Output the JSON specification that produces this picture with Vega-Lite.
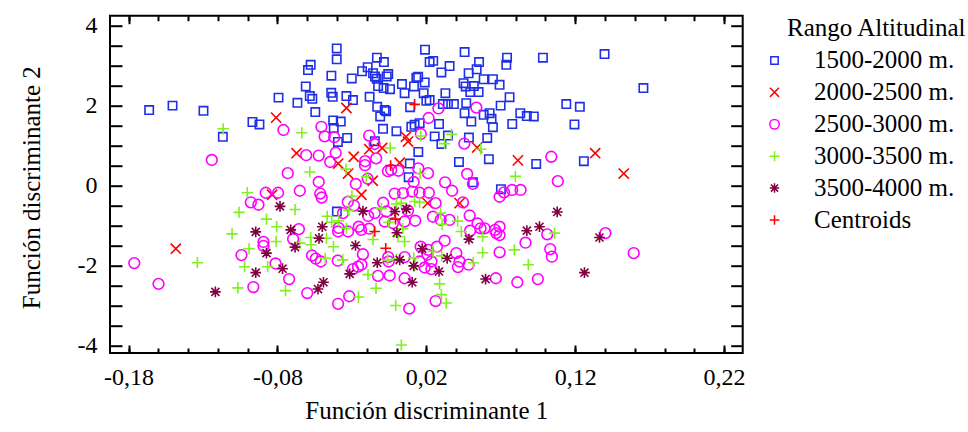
{
"$schema": "https://vega.github.io/schema/vega-lite/v6.json",
"autosize": {"type": "none"},
"width": 632.7,
"height": 337.3,
"padding": {"left": 110, "top": 15.7, "right": 225.3, "bottom": 79},
"background": "white",
"config": {
  "view": {"stroke": "black", "strokeWidth": 2},
  "font": "Liberation Serif",
  "axis": {"domain": false, "grid": false, "labelFont": "Liberation Serif", "titleFont": "Liberation Serif", "labelColor": "black", "titleColor": "black", "tickColor": "black", "tickWidth": 2}
},
"data": {"values": [
{"f1":-0.1662,"f2":1.89,"rango":"1500-2000 m."},{"f1":-0.1505,"f2":2.00,"rango":"1500-2000 m."},{"f1":-0.1297,"f2":1.87,"rango":"1500-2000 m."},{"f1":-0.1167,"f2":1.22,"rango":"1500-2000 m."},{"f1":-0.0968,"f2":1.59,"rango":"1500-2000 m."},{"f1":-0.0921,"f2":1.53,"rango":"1500-2000 m."},{"f1":-0.0793,"f2":2.20,"rango":"1500-2000 m."},{"f1":-0.0666,"f2":2.07,"rango":"1500-2000 m."},{"f1":-0.0610,"f2":2.48,"rango":"1500-2000 m."},{"f1":-0.0595,"f2":2.89,"rango":"1500-2000 m."},
{"f1":-0.0577,"f2":3.02,"rango":"1500-2000 m."},{"f1":-0.0583,"f2":2.24,"rango":"1500-2000 m."},{"f1":-0.0566,"f2":2.17,"rango":"1500-2000 m."},{"f1":-0.0546,"f2":1.84,"rango":"1500-2000 m."},{"f1":-0.0438,"f2":2.75,"rango":"1500-2000 m."},{"f1":-0.0439,"f2":2.32,"rango":"1500-2000 m."},{"f1":-0.0429,"f2":2.22,"rango":"1500-2000 m."},{"f1":-0.0402,"f2":3.43,"rango":"1500-2000 m."},{"f1":-0.0402,"f2":3.16,"rango":"1500-2000 m."},{"f1":-0.0426,"f2":1.63,"rango":"1500-2000 m."},
{"f1":-0.0422,"f2":1.44,"rango":"1500-2000 m."},{"f1":-0.0375,"f2":1.60,"rango":"1500-2000 m."},{"f1":-0.0394,"f2":1.09,"rango":"1500-2000 m."},{"f1":-0.0332,"f2":1.19,"rango":"1500-2000 m."},{"f1":-0.0337,"f2":2.24,"rango":"1500-2000 m."},{"f1":-0.0301,"f2":2.68,"rango":"1500-2000 m."},{"f1":-0.0293,"f2":2.14,"rango":"1500-2000 m."},{"f1":-0.0232,"f2":2.86,"rango":"1500-2000 m."},{"f1":-0.0194,"f2":2.96,"rango":"1500-2000 m."},{"f1":-0.0181,"f2":2.22,"rango":"1500-2000 m."},
{"f1":-0.0158,"f2":2.81,"rango":"1500-2000 m."},{"f1":-0.0145,"f2":2.73,"rango":"1500-2000 m."},{"f1":-0.0134,"f2":2.67,"rango":"1500-2000 m."},{"f1":-0.0132,"f2":3.20,"rango":"1500-2000 m."},{"f1":-0.0085,"f2":3.09,"rango":"1500-2000 m."},{"f1":-0.0066,"f2":2.73,"rango":"1500-2000 m."},{"f1":-0.0056,"f2":2.79,"rango":"1500-2000 m."},{"f1":-0.0124,"f2":2.49,"rango":"1500-2000 m."},{"f1":-0.0087,"f2":2.44,"rango":"1500-2000 m."},{"f1":-0.0044,"f2":2.41,"rango":"1500-2000 m."},
{"f1":-0.0130,"f2":1.97,"rango":"1500-2000 m."},{"f1":-0.0080,"f2":1.89,"rango":"1500-2000 m."},{"f1":-0.0070,"f2":1.86,"rango":"1500-2000 m."},{"f1":-0.0110,"f2":1.73,"rango":"1500-2000 m."},{"f1":-0.0091,"f2":1.42,"rango":"1500-2000 m."},{"f1":-0.0146,"f2":1.11,"rango":"1500-2000 m."},{"f1":-0.0001,"f2":1.36,"rango":"1500-2000 m."},{"f1":0.0036,"f2":2.54,"rango":"1500-2000 m."},{"f1":0.0054,"f2":2.31,"rango":"1500-2000 m."},{"f1":0.0117,"f2":2.48,"rango":"1500-2000 m."},
{"f1":0.0133,"f2":2.70,"rango":"1500-2000 m."},{"f1":0.0145,"f2":2.72,"rango":"1500-2000 m."},{"f1":0.0189,"f2":2.58,"rango":"1500-2000 m."},{"f1":0.0191,"f2":3.40,"rango":"1500-2000 m."},{"f1":0.0222,"f2":3.09,"rango":"1500-2000 m."},{"f1":0.0246,"f2":3.12,"rango":"1500-2000 m."},{"f1":0.0182,"f2":2.31,"rango":"1500-2000 m."},{"f1":0.0200,"f2":2.12,"rango":"1500-2000 m."},{"f1":0.0222,"f2":2.14,"rango":"1500-2000 m."},{"f1":0.0091,"f2":1.96,"rango":"1500-2000 m."},
{"f1":0.0099,"f2":1.47,"rango":"1500-2000 m."},{"f1":0.0121,"f2":1.52,"rango":"1500-2000 m."},{"f1":0.0155,"f2":1.56,"rango":"1500-2000 m."},{"f1":0.0146,"f2":0.84,"rango":"1500-2000 m."},{"f1":0.0089,"f2":0.55,"rango":"1500-2000 m."},{"f1":0.0081,"f2":0.21,"rango":"1500-2000 m."},{"f1":0.0256,"f2":1.23,"rango":"1500-2000 m."},{"f1":0.0301,"f2":2.83,"rango":"1500-2000 m."},{"f1":0.0356,"f2":2.99,"rango":"1500-2000 m."},{"f1":0.0457,"f2":3.34,"rango":"1500-2000 m."},
{"f1":0.0554,"f2":3.09,"rango":"1500-2000 m."},{"f1":0.0538,"f2":2.91,"rango":"1500-2000 m."},{"f1":0.0484,"f2":2.81,"rango":"1500-2000 m."},{"f1":0.0742,"f2":3.20,"rango":"1500-2000 m."},{"f1":0.0737,"f2":3.02,"rango":"1500-2000 m."},{"f1":0.0983,"f2":3.20,"rango":"1500-2000 m."},{"f1":0.0450,"f2":2.56,"rango":"1500-2000 m."},{"f1":0.0464,"f2":2.48,"rango":"1500-2000 m."},{"f1":0.0519,"f2":2.49,"rango":"1500-2000 m."},{"f1":0.0585,"f2":2.66,"rango":"1500-2000 m."},
{"f1":0.0647,"f2":2.66,"rango":"1500-2000 m."},{"f1":0.0692,"f2":2.52,"rango":"1500-2000 m."},{"f1":0.0495,"f2":2.34,"rango":"1500-2000 m."},{"f1":0.0551,"f2":2.34,"rango":"1500-2000 m."},{"f1":0.0328,"f2":2.31,"rango":"1500-2000 m."},{"f1":0.0759,"f2":2.21,"rango":"1500-2000 m."},{"f1":0.0699,"f2":2.00,"rango":"1500-2000 m."},{"f1":0.0468,"f2":2.06,"rango":"1500-2000 m."},{"f1":0.0311,"f2":2.04,"rango":"1500-2000 m."},{"f1":0.0345,"f2":2.04,"rango":"1500-2000 m."},
{"f1":0.0385,"f2":2.04,"rango":"1500-2000 m."},{"f1":0.0457,"f2":1.81,"rango":"1500-2000 m."},{"f1":0.0502,"f2":1.60,"rango":"1500-2000 m."},{"f1":0.0585,"f2":1.77,"rango":"1500-2000 m."},{"f1":0.0625,"f2":1.81,"rango":"1500-2000 m."},{"f1":0.0638,"f2":1.67,"rango":"1500-2000 m."},{"f1":0.0647,"f2":1.46,"rango":"1500-2000 m."},{"f1":0.0831,"f2":1.81,"rango":"1500-2000 m."},{"f1":0.0875,"f2":1.74,"rango":"1500-2000 m."},{"f1":0.0922,"f2":1.73,"rango":"1500-2000 m."},
{"f1":0.0777,"f2":1.54,"rango":"1500-2000 m."},{"f1":0.1140,"f2":2.04,"rango":"1500-2000 m."},{"f1":0.1231,"f2":1.97,"rango":"1500-2000 m."},{"f1":0.1195,"f2":1.53,"rango":"1500-2000 m."},{"f1":0.0285,"f2":1.54,"rango":"1500-2000 m."},{"f1":0.0345,"f2":1.25,"rango":"1500-2000 m."},{"f1":0.0301,"f2":1.04,"rango":"1500-2000 m."},{"f1":0.0486,"f2":1.20,"rango":"1500-2000 m."},{"f1":0.0609,"f2":1.19,"rango":"1500-2000 m."},{"f1":0.0620,"f2":0.66,"rango":"1500-2000 m."},
{"f1":0.0419,"f2":0.59,"rango":"1500-2000 m."},{"f1":0.0938,"f2":0.54,"rango":"1500-2000 m."},{"f1":0.1258,"f2":0.61,"rango":"1500-2000 m."},{"f1":0.1397,"f2":3.29,"rango":"1500-2000 m."},{"f1":0.1658,"f2":2.44,"rango":"1500-2000 m."},{"f1":0.0513,"f2":0.08,"rango":"1500-2000 m."},{"f1":0.0701,"f2":-0.09,"rango":"1500-2000 m."},{"f1":-0.0401,"f2":-0.65,"rango":"1500-2000 m."},
{"f1":-0.0809,"f2":1.70,"rango":"2000-2500 m."},{"f1":-0.0337,"f2":1.94,"rango":"2000-2500 m."},{"f1":-0.0672,"f2":0.81,"rango":"2000-2500 m."},{"f1":-0.0392,"f2":0.55,"rango":"2000-2500 m."},{"f1":-0.0288,"f2":0.72,"rango":"2000-2500 m."},{"f1":-0.0326,"f2":0.30,"rango":"2000-2500 m."},{"f1":-0.0183,"f2":0.91,"rango":"2000-2500 m."},{"f1":-0.0097,"f2":0.94,"rango":"2000-2500 m."},{"f1":-0.0160,"f2":0.12,"rango":"2000-2500 m."},{"f1":0.0021,"f2":0.57,"rango":"2000-2500 m."},
{"f1":0.0063,"f2":1.22,"rango":"2000-2500 m."},{"f1":0.0077,"f2":1.10,"rango":"2000-2500 m."},{"f1":0.0541,"f2":0.95,"rango":"2000-2500 m."},{"f1":0.0815,"f2":0.63,"rango":"2000-2500 m."},{"f1":0.1334,"f2":0.81,"rango":"2000-2500 m."},{"f1":0.1526,"f2":0.30,"rango":"2000-2500 m."},{"f1":0.0209,"f2":-0.44,"rango":"2000-2500 m."},{"f1":0.0423,"f2":-0.44,"rango":"2000-2500 m."},{"f1":-0.1483,"f2":-1.58,"rango":"2000-2500 m."},{"f1":-0.0836,"f2":-0.23,"rango":"2000-2500 m."},
{"f1":-0.0236,"f2":-0.23,"rango":"2000-2500 m."},
{"f1":-0.1241,"f2":0.64,"rango":"2500-3000 m."},{"f1":-0.0760,"f2":1.39,"rango":"2500-3000 m."},{"f1":-0.0731,"f2":0.31,"rango":"2500-3000 m."},{"f1":-0.0607,"f2":0.76,"rango":"2500-3000 m."},{"f1":-0.0523,"f2":0.75,"rango":"2500-3000 m."},{"f1":-0.0505,"f2":1.47,"rango":"2500-3000 m."},{"f1":-0.0483,"f2":1.23,"rango":"2500-3000 m."},{"f1":-0.0419,"f2":1.21,"rango":"2500-3000 m."},{"f1":-0.0409,"f2":0.82,"rango":"2500-3000 m."},{"f1":-0.0446,"f2":0.59,"rango":"2500-3000 m."},
{"f1":-0.0523,"f2":0.09,"rango":"2500-3000 m."},{"f1":-0.0274,"f2":0.04,"rango":"2500-3000 m."},{"f1":-0.0211,"f2":0.61,"rango":"2500-3000 m."},{"f1":-0.0212,"f2":0.51,"rango":"2500-3000 m."},{"f1":-0.0184,"f2":1.25,"rango":"2500-3000 m."},{"f1":-0.0148,"f2":1.04,"rango":"2500-3000 m."},{"f1":-0.0137,"f2":0.68,"rango":"2500-3000 m."},{"f1":-0.0058,"f2":0.36,"rango":"2500-3000 m."},{"f1":-0.0036,"f2":0.39,"rango":"2500-3000 m."},{"f1":0.0012,"f2":0.37,"rango":"2500-3000 m."},
{"f1":-0.0194,"f2":0.17,"rango":"2500-3000 m."},{"f1":0.0146,"f2":0.43,"rango":"2500-3000 m."},{"f1":0.0115,"f2":0.09,"rango":"2500-3000 m."},{"f1":0.0215,"f2":1.69,"rango":"2500-3000 m."},{"f1":0.0281,"f2":1.93,"rango":"2500-3000 m."},{"f1":0.0536,"f2":1.95,"rango":"2500-3000 m."},{"f1":0.0163,"f2":1.29,"rango":"2500-3000 m."},{"f1":0.0455,"f2":1.05,"rango":"2500-3000 m."},{"f1":0.0474,"f2":0.29,"rango":"2500-3000 m."},{"f1":0.0211,"f2":0.31,"rango":"2500-3000 m."},
{"f1":0.0326,"f2":0.08,"rango":"2500-3000 m."},{"f1":0.1039,"f2":0.72,"rango":"2500-3000 m."},{"f1":0.1083,"f2":0.11,"rango":"2500-3000 m."},{"f1":0.0373,"f2":-0.13,"rango":"2500-3000 m."},{"f1":0.0217,"f2":-0.18,"rango":"2500-3000 m."},{"f1":0.0513,"f2":0.04,"rango":"2500-3000 m."},{"f1":0.0692,"f2":-0.28,"rango":"2500-3000 m."},{"f1":0.0722,"f2":-0.17,"rango":"2500-3000 m."},{"f1":0.0776,"f2":-0.11,"rango":"2500-3000 m."},{"f1":0.0833,"f2":-0.11,"rango":"2500-3000 m."},
{"f1":0.0262,"f2":-0.44,"rango":"2500-3000 m."},{"f1":0.0446,"f2":-0.42,"rango":"2500-3000 m."},{"f1":0.0491,"f2":-0.75,"rango":"2500-3000 m."},{"f1":0.0244,"f2":-0.78,"rango":"2500-3000 m."},{"f1":0.0296,"f2":-0.86,"rango":"2500-3000 m."},{"f1":0.0356,"f2":-0.86,"rango":"2500-3000 m."},{"f1":0.0544,"f2":-0.95,"rango":"2500-3000 m."},{"f1":0.0564,"f2":-1.07,"rango":"2500-3000 m."},{"f1":0.0591,"f2":-1.07,"rango":"2500-3000 m."},{"f1":0.0494,"f2":-1.13,"rango":"2500-3000 m."},
{"f1":0.0662,"f2":-1.11,"rango":"2500-3000 m."},{"f1":0.0692,"f2":-1.03,"rango":"2500-3000 m."},{"f1":0.0692,"f2":-1.24,"rango":"2500-3000 m."},{"f1":0.0670,"f2":-1.19,"rango":"2500-3000 m."},{"f1":0.0323,"f2":-1.38,"rango":"2500-3000 m."},{"f1":0.1012,"f2":-1.22,"rango":"2500-3000 m."},{"f1":0.1403,"f2":-1.19,"rango":"2500-3000 m."},{"f1":0.0866,"f2":-1.43,"rango":"2500-3000 m."},{"f1":-0.0513,"f2":-0.20,"rango":"2500-3000 m."},{"f1":-0.0503,"f2":-0.30,"rango":"2500-3000 m."},
{"f1":-0.0328,"f2":-0.41,"rango":"2500-3000 m."},{"f1":-0.0013,"f2":-0.20,"rango":"2500-3000 m."},{"f1":0.0043,"f2":-0.19,"rango":"2500-3000 m."},{"f1":0.0105,"f2":-0.15,"rango":"2500-3000 m."},{"f1":0.0155,"f2":-0.18,"rango":"2500-3000 m."},{"f1":-0.0286,"f2":-0.50,"rango":"2500-3000 m."},{"f1":-0.0147,"f2":-0.69,"rango":"2500-3000 m."},{"f1":-0.0191,"f2":-0.76,"rango":"2500-3000 m."},{"f1":-0.0090,"f2":-0.43,"rango":"2500-3000 m."},{"f1":-0.0360,"f2":-0.69,"rango":"2500-3000 m."},
{"f1":-0.0393,"f2":-1.15,"rango":"2500-3000 m."},{"f1":-0.0389,"f2":-1.06,"rango":"2500-3000 m."},{"f1":-0.0238,"f2":-1.11,"rango":"2500-3000 m."},{"f1":-0.0254,"f2":-1.03,"rango":"2500-3000 m."},{"f1":-0.0184,"f2":-1.08,"rango":"2500-3000 m."},{"f1":-0.0326,"f2":-1.15,"rango":"2500-3000 m."},{"f1":-0.0080,"f2":-0.90,"rango":"2500-3000 m."},{"f1":-0.0024,"f2":-0.94,"rango":"2500-3000 m."},{"f1":0.0054,"f2":-0.90,"rango":"2500-3000 m."},{"f1":-0.0068,"f2":-0.65,"rango":"2500-3000 m."},
{"f1":0.0077,"f2":-0.63,"rango":"2500-3000 m."},{"f1":0.0125,"f2":-0.88,"rango":"2500-3000 m."},{"f1":-0.0879,"f2":-0.18,"rango":"2500-3000 m."},{"f1":-0.0796,"f2":-0.18,"rango":"2500-3000 m."},{"f1":-0.0650,"f2":-0.13,"rango":"2500-3000 m."},{"f1":-0.0979,"f2":-0.42,"rango":"2500-3000 m."},{"f1":-0.0928,"f2":-0.48,"rango":"2500-3000 m."},{"f1":-0.0656,"f2":-1.09,"rango":"2500-3000 m."},{"f1":-0.0695,"f2":-1.34,"rango":"2500-3000 m."},{"f1":-0.0894,"f2":-1.41,"rango":"2500-3000 m."},
{"f1":-0.0894,"f2":-1.51,"rango":"2500-3000 m."},{"f1":-0.1762,"f2":-1.94,"rango":"2500-3000 m."},{"f1":-0.1599,"f2":-2.46,"rango":"2500-3000 m."},{"f1":-0.1042,"f2":-1.74,"rango":"2500-3000 m."},{"f1":-0.0962,"f2":-2.54,"rango":"2500-3000 m."},{"f1":-0.0813,"f2":-1.95,"rango":"2500-3000 m."},{"f1":-0.0722,"f2":-2.34,"rango":"2500-3000 m."},{"f1":-0.0600,"f2":-2.69,"rango":"2500-3000 m."},{"f1":-0.0568,"f2":-1.75,"rango":"2500-3000 m."},{"f1":-0.0543,"f2":-1.83,"rango":"2500-3000 m."},
{"f1":-0.0509,"f2":-1.90,"rango":"2500-3000 m."},{"f1":-0.0395,"f2":-1.88,"rango":"2500-3000 m."},{"f1":-0.0226,"f2":-1.72,"rango":"2500-3000 m."},{"f1":-0.0259,"f2":-2.03,"rango":"2500-3000 m."},{"f1":-0.0293,"f2":-2.09,"rango":"2500-3000 m."},{"f1":-0.0236,"f2":-1.98,"rango":"2500-3000 m."},{"f1":-0.0053,"f2":-1.90,"rango":"2500-3000 m."},{"f1":-0.0056,"f2":-1.79,"rango":"2500-3000 m."},{"f1":0.0054,"f2":-1.79,"rango":"2500-3000 m."},{"f1":0.0155,"f2":-1.90,"rango":"2500-3000 m."},
{"f1":0.0189,"f2":-2.05,"rango":"2500-3000 m."},{"f1":0.0207,"f2":-1.73,"rango":"2500-3000 m."},{"f1":0.0234,"f2":-1.90,"rango":"2500-3000 m."},{"f1":0.0234,"f2":-2.09,"rango":"2500-3000 m."},{"f1":-0.0125,"f2":-2.26,"rango":"2500-3000 m."},{"f1":-0.0046,"f2":-2.25,"rango":"2500-3000 m."},{"f1":0.0054,"f2":-2.32,"rango":"2500-3000 m."},{"f1":-0.0318,"f2":-2.77,"rango":"2500-3000 m."},{"f1":-0.0393,"f2":-2.96,"rango":"2500-3000 m."},{"f1":0.0085,"f2":-3.08,"rango":"2500-3000 m."},
{"f1":0.0162,"f2":-1.53,"rango":"2500-3000 m."},{"f1":0.0271,"f2":-1.53,"rango":"2500-3000 m."},{"f1":0.0401,"f2":-1.69,"rango":"2500-3000 m."},{"f1":0.0423,"f2":-1.90,"rango":"2500-3000 m."},{"f1":0.0412,"f2":-2.04,"rango":"2500-3000 m."},{"f1":0.0484,"f2":-1.98,"rango":"2500-3000 m."},{"f1":0.0692,"f2":-1.67,"rango":"2500-3000 m."},{"f1":0.1032,"f2":-1.59,"rango":"2500-3000 m."},{"f1":0.1043,"f2":-1.78,"rango":"2500-3000 m."},{"f1":0.1593,"f2":-1.69,"rango":"2500-3000 m."},
{"f1":0.0667,"f2":-2.32,"rango":"2500-3000 m."},{"f1":0.0811,"f2":-2.42,"rango":"2500-3000 m."},{"f1":0.0949,"f2":-2.34,"rango":"2500-3000 m."},{"f1":0.0262,"f2":-2.89,"rango":"2500-3000 m."},{"f1":0.0212,"f2":-1.61,"rango":"2500-3000 m."},
{"f1":-0.1165,"f2":1.42,"rango":"3000-3500 m."},{"f1":-0.0637,"f2":1.32,"rango":"3000-3500 m."},{"f1":-0.0583,"f2":0.34,"rango":"3000-3500 m."},{"f1":-0.0340,"f2":0.41,"rango":"3000-3500 m."},{"f1":-0.0203,"f2":0.22,"rango":"3000-3500 m."},{"f1":-0.0043,"f2":0.94,"rango":"3000-3500 m."},{"f1":0.0162,"f2":1.24,"rango":"3000-3500 m."},{"f1":0.0158,"f2":0.30,"rango":"3000-3500 m."},{"f1":0.0368,"f2":1.28,"rango":"3000-3500 m."},{"f1":0.0323,"f2":1.05,"rango":"3000-3500 m."},
{"f1":0.0566,"f2":0.91,"rango":"3000-3500 m."},{"f1":0.0798,"f2":0.23,"rango":"3000-3500 m."},{"f1":0.0295,"f2":-0.69,"rango":"3000-3500 m."},{"f1":0.0306,"f2":-0.97,"rango":"3000-3500 m."},{"f1":0.0410,"f2":-0.89,"rango":"3000-3500 m."},{"f1":0.0435,"f2":-1.15,"rango":"3000-3500 m."},{"f1":0.0578,"f2":-1.28,"rango":"3000-3500 m."},{"f1":0.0578,"f2":-1.68,"rango":"3000-3500 m."},{"f1":0.0791,"f2":-1.61,"rango":"3000-3500 m."},{"f1":0.1061,"f2":-1.19,"rango":"3000-3500 m."},
{"f1":0.0885,"f2":-1.98,"rango":"3000-3500 m."},{"f1":0.0515,"f2":-1.93,"rango":"3000-3500 m."},{"f1":0.0244,"f2":-1.65,"rango":"3000-3500 m."},{"f1":0.0303,"f2":-1.76,"rango":"3000-3500 m."},{"f1":0.0289,"f2":-2.46,"rango":"3000-3500 m."},{"f1":0.0301,"f2":-2.73,"rango":"3000-3500 m."},{"f1":0.0334,"f2":-2.94,"rango":"3000-3500 m."},{"f1":-0.1003,"f2":-0.18,"rango":"3000-3500 m."},{"f1":-0.1058,"f2":-0.67,"rango":"3000-3500 m."},{"f1":-0.1105,"f2":-1.21,"rango":"3000-3500 m."},
{"f1":-0.1338,"f2":-1.93,"rango":"3000-3500 m."},{"f1":-0.1066,"f2":-2.56,"rango":"3000-3500 m."},{"f1":-0.1021,"f2":-2.03,"rango":"3000-3500 m."},{"f1":-0.0991,"f2":-1.58,"rango":"3000-3500 m."},{"f1":-0.0874,"f2":-0.84,"rango":"3000-3500 m."},{"f1":-0.0805,"f2":-1.03,"rango":"3000-3500 m."},{"f1":-0.0809,"f2":-1.40,"rango":"3000-3500 m."},{"f1":-0.0866,"f2":-2.03,"rango":"3000-3500 m."},{"f1":-0.0682,"f2":-0.60,"rango":"3000-3500 m."},{"f1":-0.0650,"f2":-1.44,"rango":"3000-3500 m."},
{"f1":-0.0746,"f2":-2.63,"rango":"3000-3500 m."},{"f1":-0.0577,"f2":-1.30,"rango":"3000-3500 m."},{"f1":-0.0575,"f2":-1.48,"rango":"3000-3500 m."},{"f1":-0.0466,"f2":-0.77,"rango":"3000-3500 m."},{"f1":-0.0436,"f2":-0.92,"rango":"3000-3500 m."},{"f1":-0.0389,"f2":-0.88,"rango":"3000-3500 m."},{"f1":-0.0424,"f2":-1.53,"rango":"3000-3500 m."},{"f1":-0.0479,"f2":-1.82,"rango":"3000-3500 m."},{"f1":-0.0362,"f2":-1.86,"rango":"3000-3500 m."},{"f1":-0.0337,"f2":-1.07,"rango":"3000-3500 m."},
{"f1":-0.0300,"f2":-0.26,"rango":"3000-3500 m."},{"f1":-0.0321,"f2":-0.62,"rango":"3000-3500 m."},{"f1":-0.0192,"f2":-2.23,"rango":"3000-3500 m."},{"f1":-0.0138,"f2":-2.57,"rango":"3000-3500 m."},{"f1":-0.0256,"f2":-2.79,"rango":"3000-3500 m."},{"f1":-0.0158,"f2":-1.35,"rango":"3000-3500 m."},{"f1":-0.0053,"f2":-0.92,"rango":"3000-3500 m."},{"f1":-0.0001,"f2":-0.46,"rango":"3000-3500 m."},{"f1":0.0032,"f2":-0.44,"rango":"3000-3500 m."},{"f1":0.0009,"f2":-1.28,"rango":"3000-3500 m."},
{"f1":0.0041,"f2":-1.08,"rango":"3000-3500 m."},{"f1":-0.0001,"f2":-1.84,"rango":"3000-3500 m."},{"f1":-0.0060,"f2":-1.86,"rango":"3000-3500 m."},{"f1":0.0121,"f2":-2.01,"rango":"3000-3500 m."},{"f1":0.0115,"f2":-1.81,"rango":"3000-3500 m."},{"f1":-0.0006,"f2":-3.00,"rango":"3000-3500 m."},{"f1":0.0032,"f2":-3.99,"rango":"3000-3500 m."},{"f1":0.0155,"f2":-0.42,"rango":"3000-3500 m."},{"f1":0.0121,"f2":-0.40,"rango":"3000-3500 m."},{"f1":0.0054,"f2":-1.40,"rango":"3000-3500 m."},
{"f1":-0.0102,"f2":-0.57,"rango":"3000-3500 m."},{"f1":-0.0471,"f2":-1.32,"rango":"3000-3500 m."},
{"f1":-0.1217,"f2":-2.66,"rango":"3500-4000 m."},{"f1":-0.0946,"f2":-1.16,"rango":"3500-4000 m."},{"f1":-0.0946,"f2":-2.18,"rango":"3500-4000 m."},{"f1":-0.0874,"f2":-1.69,"rango":"3500-4000 m."},{"f1":-0.0766,"f2":-2.08,"rango":"3500-4000 m."},{"f1":-0.0783,"f2":-0.52,"rango":"3500-4000 m."},{"f1":-0.0711,"f2":-1.11,"rango":"3500-4000 m."},{"f1":-0.0682,"f2":-1.54,"rango":"3500-4000 m."},{"f1":-0.0499,"f2":-1.03,"rango":"3500-4000 m."},{"f1":-0.0521,"f2":-1.32,"rango":"3500-4000 m."},
{"f1":-0.0491,"f2":-2.42,"rango":"3500-4000 m."},{"f1":-0.0528,"f2":-2.59,"rango":"3500-4000 m."},{"f1":-0.0276,"f2":-1.50,"rango":"3500-4000 m."},{"f1":-0.0315,"f2":-2.21,"rango":"3500-4000 m."},{"f1":-0.0226,"f2":-0.64,"rango":"3500-4000 m."},{"f1":-0.0130,"f2":-1.93,"rango":"3500-4000 m."},{"f1":0.0002,"f2":-1.18,"rango":"3500-4000 m."},{"f1":-0.0011,"f2":-0.65,"rango":"3500-4000 m."},{"f1":0.0066,"f2":-0.59,"rango":"3500-4000 m."},{"f1":0.0021,"f2":-1.86,"rango":"3500-4000 m."},
{"f1":0.0115,"f2":-2.01,"rango":"3500-4000 m."},{"f1":0.0105,"f2":-2.42,"rango":"3500-4000 m."},{"f1":0.0172,"f2":-1.58,"rango":"3500-4000 m."},{"f1":0.1079,"f2":-0.66,"rango":"3500-4000 m."},{"f1":0.0875,"f2":-1.13,"rango":"3500-4000 m."},{"f1":0.0960,"f2":-1.03,"rango":"3500-4000 m."},{"f1":0.0486,"f2":-1.34,"rango":"3500-4000 m."},{"f1":0.0340,"f2":-1.82,"rango":"3500-4000 m."},{"f1":0.0285,"f2":-2.15,"rango":"3500-4000 m."},{"f1":0.0598,"f2":-2.34,"rango":"3500-4000 m."},
{"f1":0.1363,"f2":-1.30,"rango":"3500-4000 m."},{"f1":0.1262,"f2":-2.18,"rango":"3500-4000 m."},
{"f1":0.0121,"f2":2.03,"rango":"Centroids"},{"f1":-0.0040,"f2":0.50,"rango":"Centroids"},{"f1":-0.0007,"f2":-0.84,"rango":"Centroids"},{"f1":-0.0147,"f2":-1.15,"rango":"Centroids"},{"f1":-0.0073,"f2":-1.57,"rango":"Centroids"}
]},
"resolve": {"axis": {"x": "independent", "y": "independent"}},
"layer": [
  {
    "mark": {"type": "point", "filled": false, "size": 115, "strokeWidth": 1.6, "opacity": 1},
    "encoding": {
      "x": {"field": "f1", "type": "quantitative", "scale": {"domain": [-0.1925, 0.2325], "nice": false, "zero": false},
        "axis": {"orient": "bottom", "values": [-0.18, -0.08, 0.02, 0.12, 0.22], "ticks": false, "labelPadding": 12.5, "labelFontSize": 24, "labelFlush": false, "labelOverlap": false,
          "labelExpr": "replace(replace(format(datum.value, '.2f'), '.', ','), '\u2212', '-')",
          "title": "Función discriminante 1", "titleFontSize": 25, "titleFontWeight": "normal", "titleBaseline": "alphabetic", "titleX": 316.35, "titleY": 65}},
      "y": {"field": "f2", "type": "quantitative", "scale": {"domain": [-4.19, 4.25], "nice": false, "zero": false},
        "axis": {"orient": "left", "values": [-4, -2, 0, 2, 4], "ticks": false, "labelPadding": 13, "labelFontSize": 24, "labelFlush": false, "labelOverlap": false,
          "labelExpr": "replace(format(datum.value, 'd'), '\u2212', '-')",
          "title": "Función discriminante 2", "titleFontSize": 25, "titleFontWeight": "normal", "titleBaseline": "alphabetic", "titleX": -71, "titleY": 171.5}},
      "shape": {"field": "rango", "type": "nominal",
        "scale": {"domain": ["1500-2000 m.", "2000-2500 m.", "2500-3000 m.", "3000-3500 m.", "3500-4000 m.", "Centroids"],
          "range": ["M-0.78,-0.78H0.78V0.78H-0.78Z", "M-0.95,-0.95L0.95,0.95M-0.95,0.95L0.95,-0.95", "circle", "M-1.05,0H1.05M0,-1.05V1.05", "M-1,0H1M0,-1V1M-0.75,-0.75L0.75,0.75M-0.75,0.75L0.75,-0.75", "M-1,0H1M0,-1V1"]},
        "legend": {"orient": "none", "legendX": 652, "legendY": 0, "direction": "vertical", "title": "\u200b\u00a0\u00a0\u00a0\u00a0Rango Altitudinal", "titleFont": "Liberation Serif", "titleFontSize": 25, "titleFontWeight": "normal", "titleColor": "black", "titleLimit": 0, "titlePadding": 7.25,
          "labelFont": "Liberation Serif", "labelFontSize": 25, "labelColor": "black", "labelLimit": 0, "labelOffset": 27, "symbolSize": 90, "symbolStrokeWidth": 1.5, "rowPadding": 5.9}},
      "color": {"field": "rango", "type": "nominal",
        "scale": {"domain": ["1500-2000 m.", "2000-2500 m.", "2500-3000 m.", "3000-3500 m.", "3500-4000 m.", "Centroids"],
          "range": ["#1f2fe6", "#ff0000", "#ff00ff", "#80f020", "#800040", "#ff0000"]},
        "legend": {"orient": "none", "legendX": 652, "legendY": 0, "direction": "vertical", "title": "\u200b\u00a0\u00a0\u00a0\u00a0Rango Altitudinal", "titleFont": "Liberation Serif", "titleFontSize": 25, "titleFontWeight": "normal", "titleColor": "black", "titleLimit": 0, "titlePadding": 7.25,
          "labelFont": "Liberation Serif", "labelFontSize": 25, "labelColor": "black", "labelLimit": 0, "labelOffset": 27, "symbolSize": 90, "symbolStrokeWidth": 1.5, "rowPadding": 5.9}}
    }
  },
  {
    "mark": {"type": "point", "opacity": 0},
    "encoding": {
      "x": {"field": "f1", "type": "quantitative", "scale": {"domain": [-0.1925, 0.2325], "nice": false, "zero": false},
        "axis": {"orient": "bottom", "values": [-0.18, -0.08, 0.02, 0.12, 0.22], "labels": false, "tickSize": -8, "title": null}},
      "y": {"field": "f2", "type": "quantitative", "scale": {"domain": [-4.19, 4.25], "nice": false, "zero": false},
        "axis": {"orient": "left", "values": [-4, -3.5, -3, -2.5, -2, -1.5, -1, -0.5, 0, 0.5, 1, 1.5, 2, 2.5, 3, 3.5, 4], "labels": false, "tickSize": -12, "title": null}}
    }
  },
  {
    "mark": {"type": "point", "opacity": 0},
    "encoding": {
      "x": {"field": "f1", "type": "quantitative", "scale": {"domain": [-0.1925, 0.2325], "nice": false, "zero": false},
        "axis": {"orient": "bottom", "values": [-0.18, -0.16, -0.14, -0.12, -0.1, -0.08, -0.06, -0.04, -0.02, 0, 0.02, 0.04, 0.06, 0.08, 0.1, 0.12, 0.14, 0.16, 0.18, 0.2, 0.22], "labels": false, "tickSize": -5, "title": null}},
      "y": {"field": "f2", "type": "quantitative", "scale": {"domain": [-4.19, 4.25], "nice": false, "zero": false},
        "axis": {"orient": "right", "values": [-4, -3.5, -3, -2.5, -2, -1.5, -1, -0.5, 0, 0.5, 1, 1.5, 2, 2.5, 3, 3.5, 4], "labels": false, "tickSize": -12, "title": null}}
    }
  },
  {
    "mark": {"type": "point", "opacity": 0},
    "encoding": {
      "x": {"field": "f1", "type": "quantitative", "scale": {"domain": [-0.1925, 0.2325], "nice": false, "zero": false},
        "axis": {"orient": "top", "values": [-0.18, -0.08, 0.02, 0.12, 0.22], "labels": false, "tickSize": -8, "title": null}},
      "y": {"field": "f2", "type": "quantitative", "scale": {"domain": [-4.19, 4.25], "nice": false, "zero": false}, "axis": null}
    }
  },
  {
    "mark": {"type": "point", "opacity": 0},
    "encoding": {
      "x": {"field": "f1", "type": "quantitative", "scale": {"domain": [-0.1925, 0.2325], "nice": false, "zero": false},
        "axis": {"orient": "top", "values": [-0.18, -0.16, -0.14, -0.12, -0.1, -0.08, -0.06, -0.04, -0.02, 0, 0.02, 0.04, 0.06, 0.08, 0.1, 0.12, 0.14, 0.16, 0.18, 0.2, 0.22], "labels": false, "tickSize": -5, "title": null}},
      "y": {"field": "f2", "type": "quantitative", "scale": {"domain": [-4.19, 4.25], "nice": false, "zero": false}, "axis": null}
    }
  }
]
}
